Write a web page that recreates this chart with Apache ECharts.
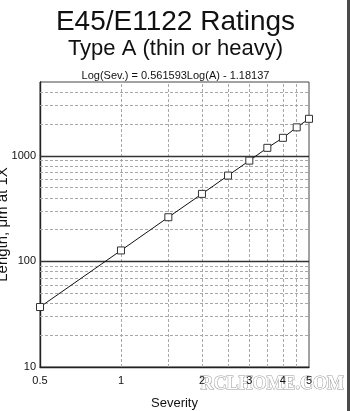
<!DOCTYPE html>
<html>
<head>
<meta charset="utf-8">
<title>E45/E1122 Ratings</title>
<script src="https://cdn.jsdelivr.net/npm/echarts@6/dist/echarts.min.js"></script>
<style>
  html, body { margin: 0; padding: 0; background: #fff; }
  #chart { width: 351px; height: 411px; }
</style>
</head>
<body>
<div id="chart"></div>
<script>
// values
const severity = [0.5, 1, 1.5, 2, 2.5, 3, 3.5, 4, 4.5, 5];
const lengthUm = [37, 127, 262, 436, 650, 900, 1190, 1480, 1860, 2240];

const xTickLabels = [0.5, 1, 2, 3, 4, 5];
const yTickLabels = [10, 100, 1000];
const xGridValues = [1, 1.5, 2, 2.5, 3, 3.5, 4, 4.5];
const yGridMinor = [20, 30, 40, 50, 60, 70, 80, 90, 200, 300, 400, 500, 600, 700, 800, 900, 2000, 3000, 4000];
const yGridMajor = [100, 1000];

const FONT = "'Liberation Sans', Arial, sans-serif";

const chart = echarts.init(document.getElementById("chart"));

const minorStyle = { color: "#a8a8a8", width: 1, type: [3, 2] };
const majorStyle = { color: "#333", width: 1.4, type: "solid" };

const gridLines = [
  ...xGridValues.map((v) => ({ xAxis: v, lineStyle: minorStyle })),
  ...yGridMinor.map((v) => ({ yAxis: v, lineStyle: minorStyle })),
  ...yGridMajor.map((v) => ({ yAxis: v, lineStyle: majorStyle }))
];

chart.setOption({
  animation: false,
  backgroundColor: "#fff",
  textStyle: { fontFamily: FONT },
  title: [
    {
      text: "E45/E1122 Ratings",
      left: "center",
      top: 3,
      textStyle: { fontSize: 28, fontWeight: "normal", color: "#111", fontFamily: FONT }
    },
    {
      text: "Type A (thin or heavy)",
      left: "center",
      top: 33,
      textStyle: { fontSize: 22, fontWeight: "normal", color: "#111", fontFamily: FONT }
    },
    {
      text: "Log(Sev.) = 0.561593Log(A) - 1.18137",
      left: "center",
      top: 65,
      textStyle: { fontSize: 11, fontWeight: "normal", color: "#111", fontFamily: FONT }
    }
  ],
  grid: {
    left: 40,
    right: 42,
    top: 82,
    bottom: 44,
    outerBoundsMode: "none",
    containLabel: false,
    show: true,
    borderColor: "#444",
    borderWidth: 1
  },
  xAxis: {
    type: "log",
    logBase: 10,
    min: 0.5,
    max: 5,
    name: "Severity",
    nameLocation: "middle",
    nameGap: 30,
    nameMoveOverlap: false,
    nameTextStyle: { fontSize: 13, color: "#111", fontFamily: FONT },
    axisLine: { lineStyle: { color: "#222", width: 1.4 } },
    axisTick: { show: false },
    splitLine: { show: false },
    axisLabel: {
      customValues: xTickLabels,
      formatter: (v) => String(v),
      margin: 8,
      fontSize: 11,
      color: "#111",
      fontFamily: FONT
    }
  },
  yAxis: {
    type: "log",
    logBase: 10,
    min: 10,
    max: 5000,
    name: "Length, μm at 1X",
    nameLocation: "middle",
    nameGap: 30,
    nameMoveOverlap: false,
    nameTextStyle: { fontSize: 15, color: "#111", fontFamily: FONT },
    axisLine: { lineStyle: { color: "#222", width: 1.4 } },
    axisTick: { show: false },
    splitLine: { show: false },
    axisLabel: {
      customValues: yTickLabels,
      formatter: (v) => String(v),
      margin: 4,
      fontSize: 11,
      color: "#111",
      fontFamily: FONT
    }
  },
  series: [
    {
      type: "line",
      data: severity.map((s, i) => [s, lengthUm[i]]),
      symbol: "rect",
      symbolSize: 7,
      showSymbol: true,
      lineStyle: { color: "#111", width: 1 },
      itemStyle: { color: "#fff", borderColor: "#333", borderWidth: 1 },
      z: 5,
      markLine: {
        silent: true,
        symbol: ["none", "none"],
        label: { show: false },
        lineStyle: minorStyle,
        data: gridLines,
        z: 1
      }
    }
  ],
  graphic: [
    {
      type: "text",
      left: 200,
      top: 375,
      z: -1,
      style: {
        text: "RCLHOME.COM",
        fill: "#fff",
        stroke: "#9a9a9a",
        lineWidth: 1,
        font: "bold 18px 'Liberation Serif', serif"
      }
    },
    {
      type: "rect",
      left: 347,
      top: 0,
      shape: { width: 3, height: 411 },
      style: { fill: "#4a4a4a" }
    }
  ]
});
</script>
</body>
</html>
